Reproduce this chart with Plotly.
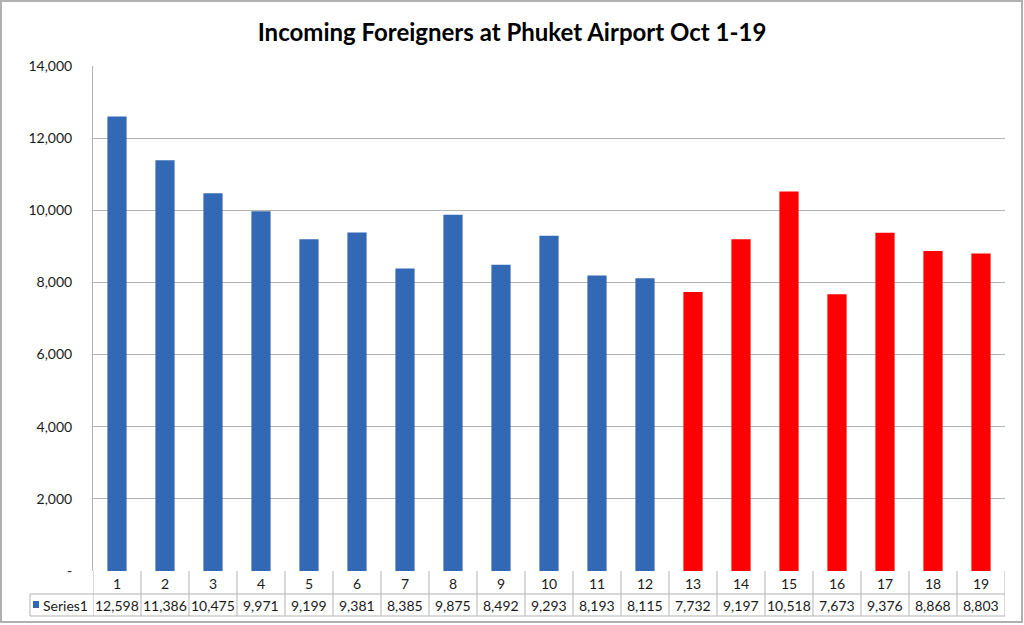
import plotly.graph_objects as go

days = list(range(1, 20))
visitors = [12598, 11386, 10475, 9971, 9199, 9381, 8385, 9875, 8492, 9293,
            8193, 8115, 7732, 9197, 10518, 7673, 9376, 8868, 8803]
red_from_day = 13
series_name = "Series1"
y_ticks = [0, 2000, 4000, 6000, 8000, 10000, 12000, 14000]
y_tick_labels = ["-", "2,000", "4,000", "6,000", "8,000", "10,000", "12,000", "14,000"]
title_text = "Incoming Foreigners at Phuket Airport Oct 1-19"

BLUE = "#3369b4"
RED = "#ff0000"
GRID = "#b3b3b3"
FONT = "Lato, 'Open Sans', sans-serif"
TXT = dict(size=14, color="#1a1a1a", family=FONT)

W, H = 1024, 625
L, R, T, B = 93, 19, 66, 54
PW = W - L - R
PH = H - T - B

colors = [BLUE if d < red_from_day else RED for d in days]

fig = go.Figure(go.Bar(x=days, y=visitors, marker=dict(color=colors, line=dict(width=0)),
                       width=0.4, name=series_name, hoverinfo="x+y"))

def py(px):  # pixel offset below plot bottom -> paper y
    return -px / PH

def pxx(px):  # absolute pixel x -> paper x
    return (px - L) / PW

def pyabs(px):  # absolute pixel y -> paper y
    return (T + PH - px) / PH

shapes = []
row1 = py(23)
row2 = py(45)
left_x = pxx(30)
for i in range(len(days) + 1):
    shapes.append(dict(type="line", xref="x", yref="paper", x0=0.5 + i, x1=0.5 + i,
                       y0=0, y1=row2, line=dict(color=GRID, width=1)))
for yy in (row1, row2):
    shapes.append(dict(type="line", xref="paper", yref="paper", x0=left_x, x1=1, y0=yy, y1=yy,
                       line=dict(color=GRID, width=1)))
shapes.append(dict(type="line", xref="paper", yref="paper", x0=left_x, x1=left_x, y0=row1, y1=row2,
                   line=dict(color=GRID, width=1)))
# legend key
shapes.append(dict(type="rect", xref="paper", yref="paper", x0=pxx(33), x1=pxx(39),
                   y0=py(30), y1=py(37), fillcolor=BLUE, line=dict(width=0)))
# outer chart border
shapes.append(dict(type="rect", xref="paper", yref="paper", x0=pxx(1), x1=pxx(1022),
                   y0=pyabs(622), y1=pyabs(1), line=dict(color="#b0b0b0", width=2)))

annotations = []
for d, v in zip(days, visitors):
    annotations.append(dict(x=d, y=py(12), xref="x", yref="paper", text=str(d), showarrow=False,
                            font=TXT, yanchor="middle"))
    annotations.append(dict(x=d, y=py(34), xref="x", yref="paper", text=f"{v:,}", showarrow=False,
                            font=TXT, yanchor="middle"))
annotations.append(dict(x=pxx(41), y=py(34), xref="paper", yref="paper", text=series_name,
                        showarrow=False, xanchor="left", yanchor="middle", font=TXT))

fig.update_layout(
    width=W, height=H,
    margin=dict(l=L, r=R, t=T, b=B),
    paper_bgcolor="white", plot_bgcolor="white",
    showlegend=False,
    title=dict(text=f"<b>{title_text}</b>", x=0.5, xref="container", xanchor="center",
               y=1 - 33 / H, yanchor="middle",
               font=dict(size=24, color="#000", family=FONT)),
    xaxis=dict(range=[0.5, len(days) + 0.5], showticklabels=False, showgrid=False, zeroline=False,
               showline=False, ticks="", fixedrange=True),
    yaxis=dict(range=[0, 14000], tickvals=y_ticks, ticktext=y_tick_labels, showgrid=True,
               gridcolor=GRID, gridwidth=1, zeroline=False, showline=True, linecolor=GRID,
               linewidth=1, ticks="", ticklabelstandoff=17, tickfont=TXT),
    shapes=shapes, annotations=annotations,
    font=dict(family=FONT),
)

fig.write_html("out.html", config={"displayModeBar": False},
               post_script="document.body.style.margin='0';")
